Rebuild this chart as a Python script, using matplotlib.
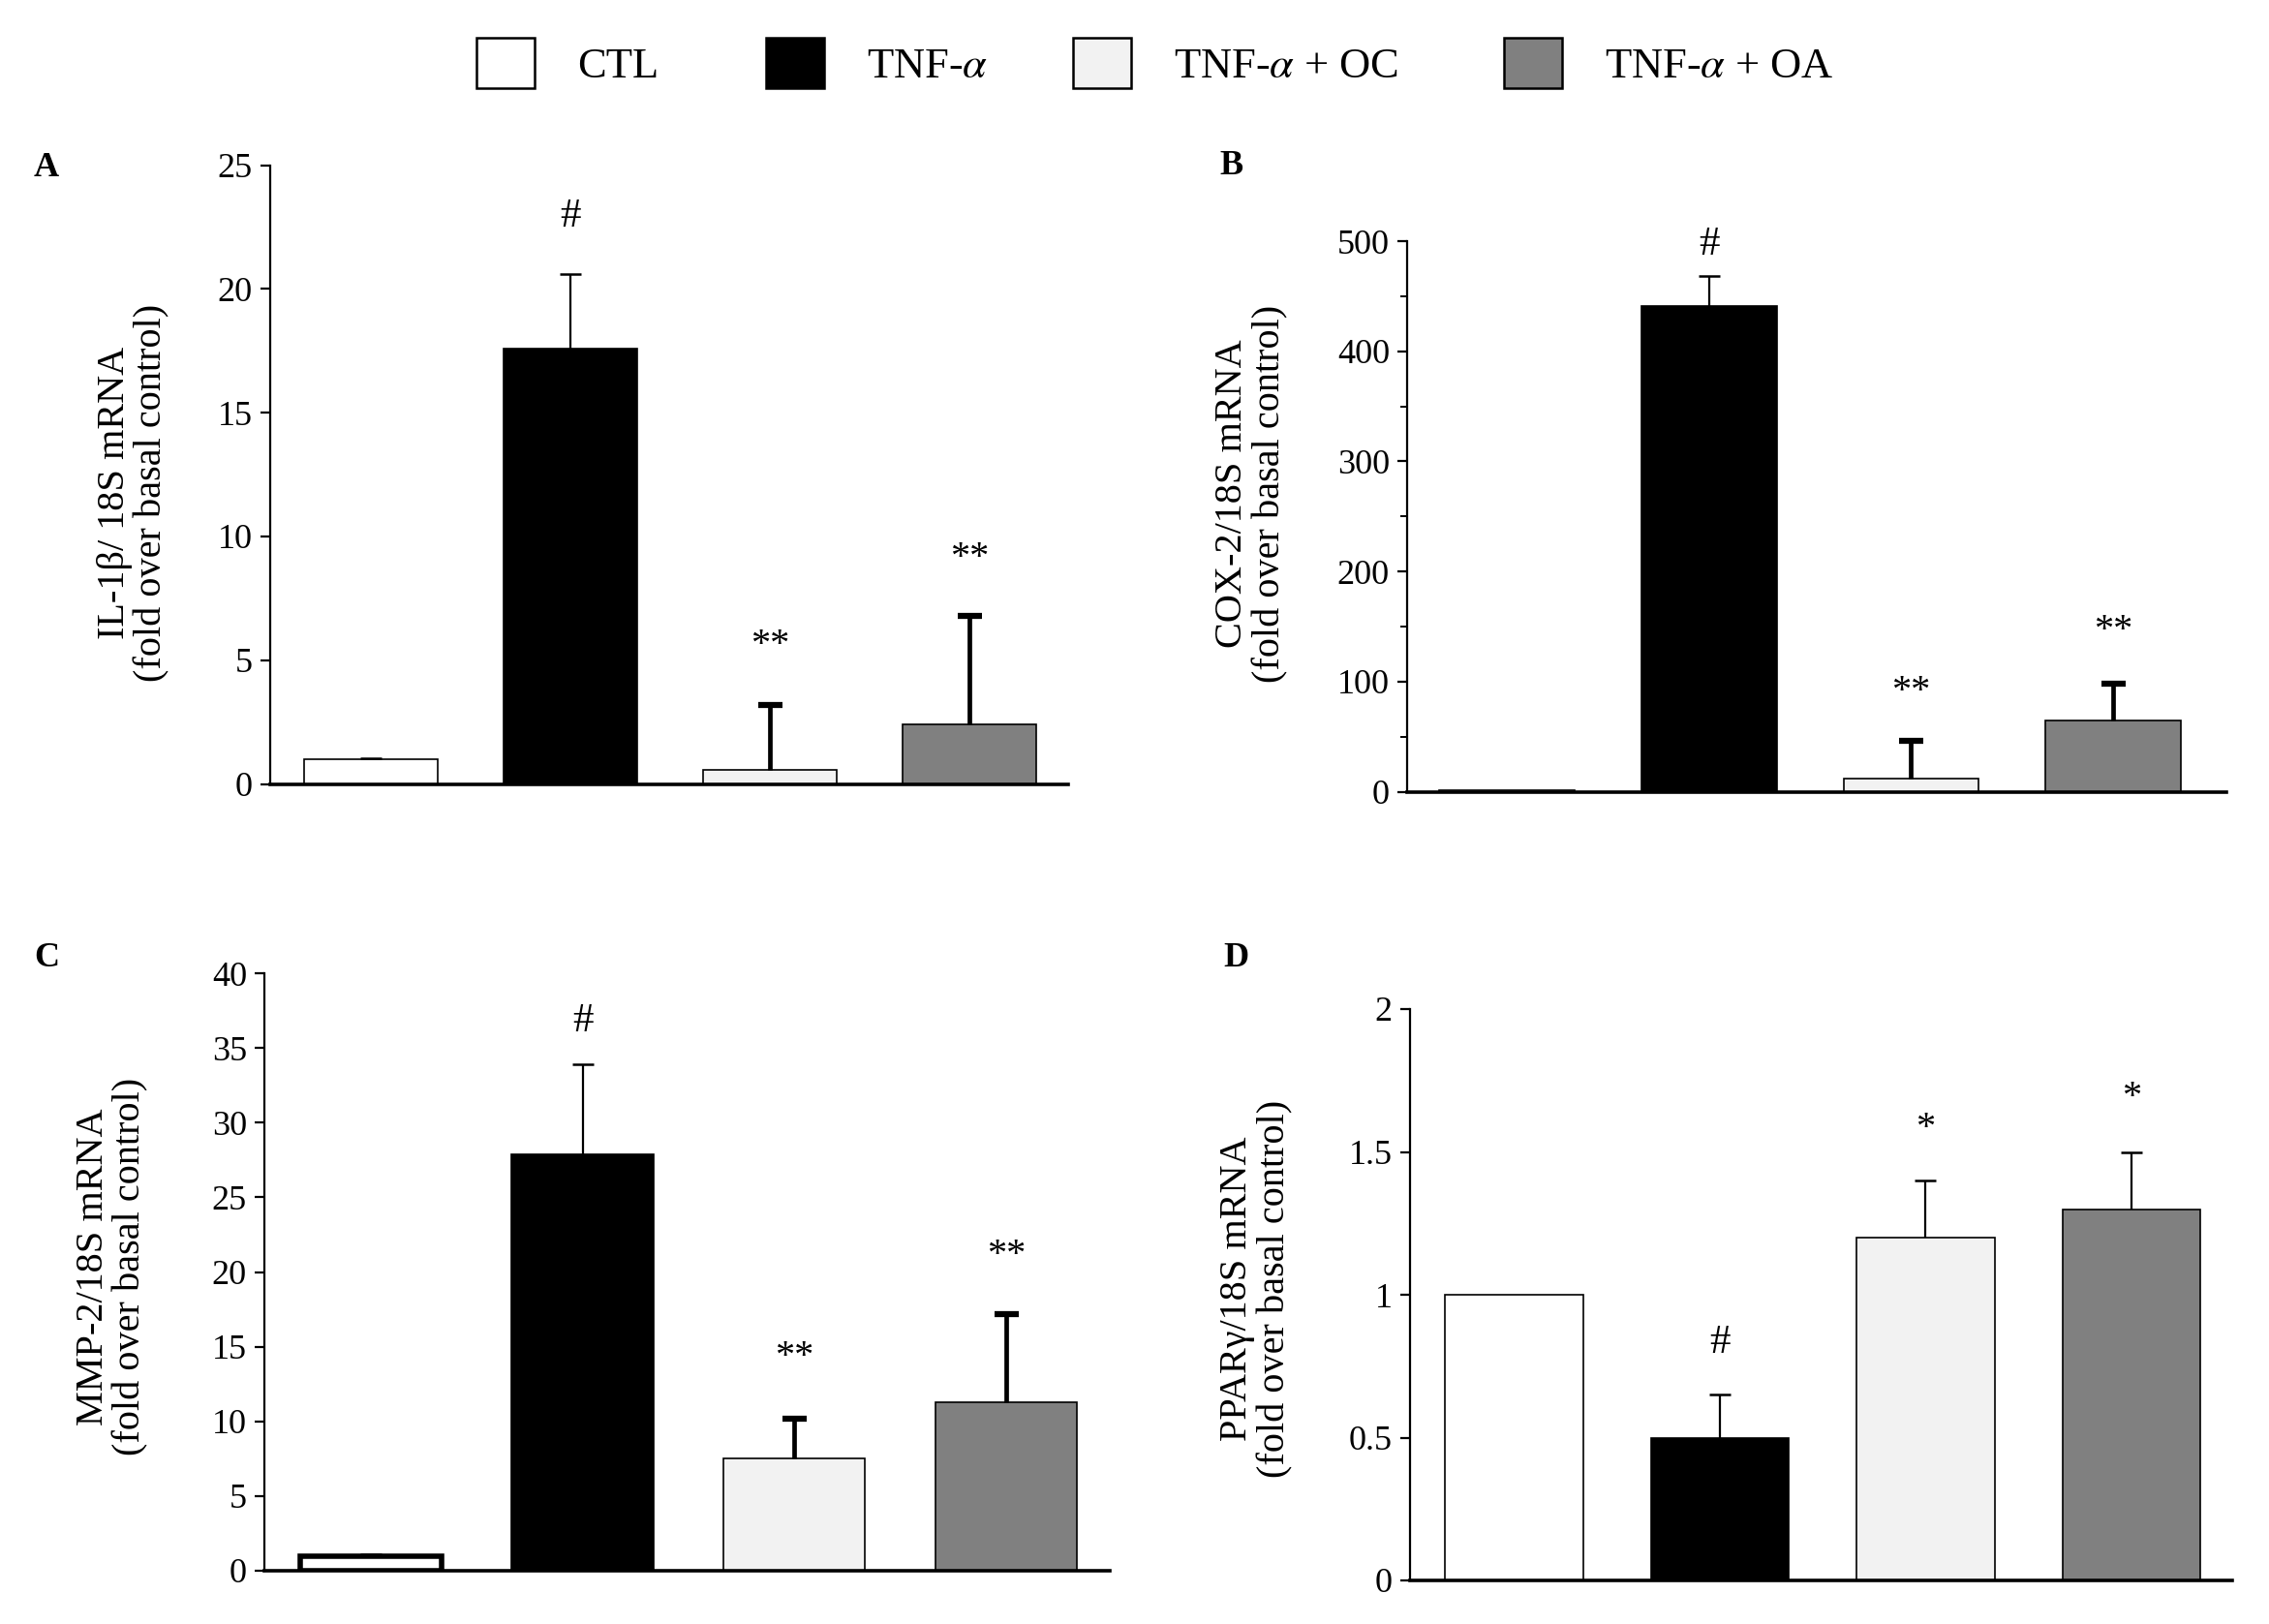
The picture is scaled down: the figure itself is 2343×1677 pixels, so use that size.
import numpy as np
import matplotlib
matplotlib.use("Agg")
import matplotlib.pyplot as plt
from matplotlib.patches import Patch
from matplotlib.ticker import MultipleLocator, FuncFormatter

plt.rcParams['font.family'] = ['Liberation Serif', 'DejaVu Serif']
plt.rcParams['mathtext.fontset'] = 'stix'

# ---------------- data ----------------
groups = ['CTL', r'TNF-$\alpha$', r'TNF-$\alpha$ + OC', r'TNF-$\alpha$ + OA']
bar_colors = ['#ffffff', '#000000', '#f2f2f2', '#808080']

il1b_mean = [1.0, 17.6, 0.55, 2.4]
il1b_err = [0.05, 3.0, 2.65, 4.4]
il1b_sig = ['', '#', '**', '**']
il1b_sig_y = [0, 22.9, 5.6, 9.1]

cox2_mean = [1.0, 441, 11.5, 64.5]
cox2_err = [0.0, 27, 35, 34]
cox2_sig = ['', '#', '**', '**']
cox2_sig_y = [0, 497, 91, 146]

mmp2_mean = [1.0, 27.9, 7.55, 11.3]
mmp2_err = [0.1, 6.0, 2.6, 5.9]
mmp2_sig = ['', '#', '**', '**']
mmp2_sig_y = [0, 36.8, 14.3, 21.1]

ppar_mean = [1.0, 0.50, 1.20, 1.30]
ppar_err = [0.0, 0.15, 0.20, 0.20]
ppar_sig = ['', '#', '*', '*']
ppar_sig_y = [0, 0.83, 1.58, 1.69]

W, H = 2343, 1677
fig = plt.figure(figsize=(W / 100, H / 100), dpi=100)


def rect(x0, x1, ytop, ybot):
    return [x0 / W, 1 - ybot / H, (x1 - x0) / W, (ybot - ytop) / H]


panels = [
    dict(letter='A', rect=rect(279, 1103, 170.5, 809.5), xlim=(-0.505, 3.495),
         mean=il1b_mean, err=il1b_err, sig=il1b_sig, sig_y=il1b_sig_y,
         ylim=25, major=5, minor=None, thick=[False, False, True, True],
         ylabel='IL-1β/ 18S mRNA\n(fold over basal control)', lab=(-0.171, 0.47),
         letter_xy=(48, 174), ctl_lw=1.2),
    dict(letter='B', rect=rect(1453, 2299, 249, 817.5), xlim=(-0.494, 3.56),
         mean=cox2_mean, err=cox2_err, sig=cox2_sig, sig_y=cox2_sig_y,
         ylim=500, major=100, minor=50, thick=[False, False, True, True],
         ylabel='COX-2/18S mRNA\n(fold over basal control)', lab=(-0.19, 0.541),
         letter_xy=(1271, 172), ctl_lw=1.2),
    dict(letter='C', rect=rect(273, 1146, 1005, 1622), xlim=(-0.503, 3.49),
         mean=mmp2_mean, err=mmp2_err, sig=mmp2_sig, sig_y=mmp2_sig_y,
         ylim=40, major=5, minor=None, thick=[False, False, True, True],
         ylabel='MMP-2/18S mRNA\n(fold over basal control)', lab=(-0.18, 0.509),
         letter_xy=(48, 990), ctl_lw=4.0),
    dict(letter='D', rect=rect(1456, 2305, 1042, 1632), xlim=(-0.506, 3.49),
         mean=ppar_mean, err=ppar_err, sig=ppar_sig, sig_y=ppar_sig_y,
         ylim=2, major=0.5, minor=None, thick=[False, False, False, False],
         ylabel='PPARγ/18S mRNA\n(fold over basal control)', lab=(-0.187, 0.51),
         letter_xy=(1276, 990), ctl_lw=1.2),
]

x = np.arange(len(groups))
for p in panels:
    ax = fig.add_axes(p['rect'])
    lws = [p['ctl_lw'], 1.2, 1.2, 1.2]
    ax.bar(x, p['mean'], width=0.67, color=bar_colors, edgecolor='black',
           linewidth=lws, zorder=2)
    for i in range(len(x)):
        if p['err'][i] <= 0:
            continue
        if p['thick'][i]:
            elw, cs, ct = 3.4, 9, 4.5
        else:
            elw, cs, ct = 1.6, 8, 1.8
        _, caps, _ = ax.errorbar(x[i], p['mean'][i], yerr=[[0], [p['err'][i]]],
                                 fmt='none', ecolor='black', elinewidth=elw,
                                 capsize=cs, capthick=ct, zorder=3)
        caps[0].set_visible(False)
    for i in range(len(x)):
        if p['sig'][i]:
            fs = 31 if p['sig'][i] == '#' else 29
            ax.text(x[i], p['sig_y'][i], p['sig'][i], ha='center', va='center',
                    fontsize=fs)
    ax.set_xlim(*p['xlim'])
    ax.set_ylim(0, p['ylim'])
    ax.yaxis.set_major_locator(MultipleLocator(p['major']))
    if p['minor']:
        ax.yaxis.set_minor_locator(MultipleLocator(p['minor']))
    ax.yaxis.set_major_formatter(FuncFormatter(lambda v, pos: f'{v:g}'))
    ax.set_xticks([])
    for s in ['top', 'right']:
        ax.spines[s].set_visible(False)
    ax.spines['left'].set_linewidth(1.6)
    ax.spines['bottom'].set_linewidth(2.6)
    ax.tick_params(axis='y', which='major', direction='out', length=7, width=1.6,
                   labelsize=26, pad=6)
    ax.tick_params(axis='y', which='minor', direction='out', length=5, width=1.4)
    ax.set_ylabel(p['ylabel'], fontsize=29, linespacing=1.05, ha='center', va='center')
    ax.yaxis.set_label_coords(*p['lab'])
    fig.text(p['letter_xy'][0] / W, 1 - p['letter_xy'][1] / H, p['letter'],
             fontsize=26, fontweight='bold', ha='center', va='center')

# legend: one entry per group, each anchored at its box position
legend_left_px = [492, 791, 1108, 1553]
for c, lab, xl in zip(bar_colors, groups, legend_left_px):
    h = Patch(facecolor=c, edgecolor='black', linewidth=1.8)
    fig.legend([h], [lab], loc='center left', bbox_to_anchor=(xl / W, 1 - 65 / H),
               frameon=False, fontsize=32, handlelength=1.35, handleheight=1.4,
               handletextpad=1.0, borderpad=0, borderaxespad=0)

fig.savefig('out.png', dpi=100)
